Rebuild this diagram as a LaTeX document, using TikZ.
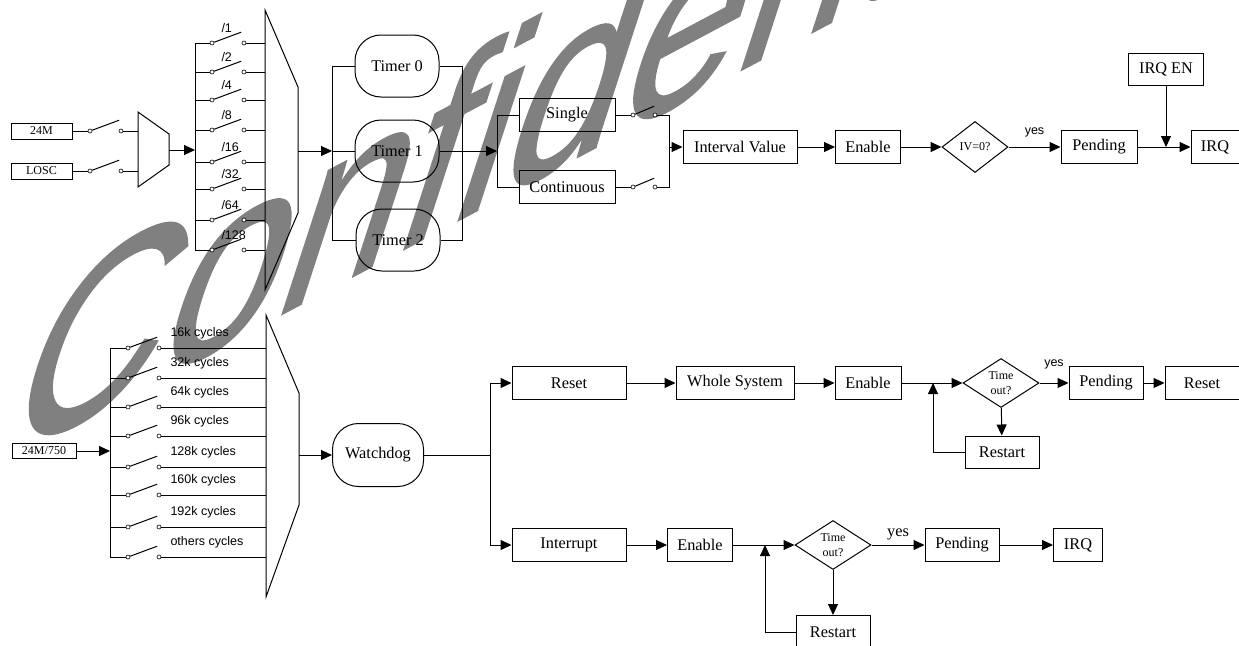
\documentclass[tikz,border=0pt]{standalone}
\usepackage{fontspec}
\setmainfont{Liberation Serif}
\newfontfamily\lsans{Liberation Sans}
\newfontfamily\wmfont{Liberation Sans}[FakeBold=1]
\usetikzlibrary{arrows.meta,shapes.geometric}
\definecolor{wmgray}{RGB}{128,128,128}
\tikzset{
  block/.style    = {shape=rectangle, draw, inner sep=0pt, minimum height=33pt,
                     font=\fontsize{16.3}{18}\selectfont},
  src/.style      = {block, minimum width=61pt, minimum height=16pt,
                     font=\fontsize{12}{14}\selectfont},
  oval/.style     = {block, rounded corners=26pt, minimum width=84pt, minimum height=62pt},
  decision/.style = {shape=diamond, draw, inner sep=0pt, align=center,
                     font=\fontsize{12}{15}\selectfont},
  contact/.style  = {circle, draw, fill=white, inner sep=0pt, minimum size=4pt, line width=0.6pt},
  lbl/.style      = {font=\lsans\fontsize{12.5}{14}\selectfont, inner sep=0pt},
  flow/.style     = {draw, -{Triangle[length=11pt,width=10pt]}},
  stamp/.style    = {font=\wmfont\fontsize{100}{100}\selectfont, text=wmgray,
                     inner sep=0pt, anchor=base west}
}

\begin{document}
\begin{tikzpicture}[x=1pt, y=-1pt, line width=1pt]
  \clip (0,0) rectangle (1239,645);
  \node[stamp, cm={2.119,1.126,0.881,2.710,(0,0)}] (wm) at (-4,466) {Confidential};

  % timer clock
  \node[src] (osc) at (41.5,131) {24M};
  \node[src] (losc) at (41.5,171) {LOSC};
  \foreach \n/\y in {o/131, l/171} {
    \node[contact] (\n a) at (90,\y) {};
    \node[contact] (\n b) at (121,\y) {};
    \draw (\n a.20) -- ++(27,-10);
  }
  \draw (osc) -- (oa);
  \draw (losc) -- (la);
  \draw (138,112) coordinate (mux1) -- (169,134) -- (169,165) -- (138,187) -- cycle;
  \coordinate (mux1o) at (169,150);
  \draw (ob) -- (ob -| mux1);
  \draw (lb) -- (lb -| mux1);
  \coordinate (dtop) at (195,43);
  \draw (dtop) -- (195,250);
  \draw[flow] (mux1o) -- (mux1o -| dtop);
  \draw (265,10) coordinate (mux2) -- (298,87) -- (298,213) -- (265,290) -- cycle;
  \coordinate (mux2o) at (298,151);
  \foreach \y/\d in {43/1, 72/2, 100/4, 130/8, 162/16, 189/32, 220/64, 250/128} {
    \node[contact] (dl\d) at (212,\y) {};
    \node[contact] (dr\d) at (244,\y) {};
    \draw (dl\d.20) -- ++(27,-10);
    \draw (dl\d -| dtop) -- (dl\d);
    \draw (dr\d) -- (dr\d -| mux2);
    \node[lbl, anchor=west] (dt\d) at (221,\y-15) {/\d};
  }

  % timers
  \coordinate (tbus) at (332,66);
  \coordinate (tright) at (462,66);
  \node[oval] (t0) at (397,66) {Timer 0};
  \node[oval] (t1) at (397,151) {Timer 1};
  \node[oval] (t2) at (398,240) {Timer 2};
  \draw[flow] (mux2o) -- (mux2o -| tbus);
  \draw (t0.west) -- (t0.west -| tbus) -- (t2.west -| tbus) -- (t2.west);
  \draw (t1.west) -- (t1.west -| tbus);
  \draw (t0.east) -- (t0.east -| tright) -- (t2.east -| tright) -- (t2.east);
  \coordinate (mbus) at (497,115);
  \draw[flow] (t1.east) -- (t1.east -| mbus);
  \node[block, minimum width=96pt] (single) at (567,115) {Single};
  \node[block, minimum width=96pt] (cont) at (567,187) {Continuous};
  \draw (single.west) -- (single.west -| mbus) -- (cont.west -| mbus) -- (cont.west);
  \foreach \n/\y in {s/115, c/187} {
    \node[contact] (\n a) at (633,\y) {};
    \node[contact] (\n b) at (655,\y) {};
    \draw (\n a.20) -- ++(19,-8);
  }
  \draw (single) -- (sa);
  \draw (cont) -- (ca);
  \coordinate (mout) at (669,115);
  \draw (sb) -- (sb -| mout) -- (cb -| mout) -- (cb);

  % timer interrupt
  \node[block, minimum width=114pt] (iv) at (740,147) {Interval Value};
  \node[block, minimum width=65pt] (en1) at (868,147) {Enable};
  \node[decision, minimum width=66pt, minimum height=51pt] (iv0) at (975,147) {IV=0?};
  \node[block, minimum width=76pt] (pend1) at (1099,147) {Pending};
  \node[block, minimum width=48pt] (irq1) at (1215,147) {IRQ};
  \node[block, minimum width=75pt, minimum height=32pt] (irqen) at (1166,69) {IRQ EN};
  \draw[flow] (iv.west -| mout) -- (iv);
  \draw[flow] (iv) -- (en1);
  \draw[flow] (en1) -- (iv0);
  \draw[flow] (iv0) -- node[lbl, above=9pt] {yes} (pend1);
  \draw[flow] (pend1) -- (irq1);
  \draw[flow] (irqen) -- (irqen |- irq1);

  % watchdog clock
  \node[src, minimum width=64pt, minimum height=15pt] (wsrc) at (44,451) {24M/750};
  \coordinate (wtop) at (110,348);
  \draw (wtop) -- (110,557);
  \draw[flow] (wsrc) -- (wsrc -| wtop);
  \draw (266,315) coordinate (mux3) -- (299,393) -- (299,505) -- (266,597) -- cycle;
  \coordinate (mux3o) at (299,455);
  \foreach \y/\k in {348/16k, 378/32k, 407/64k, 436/96k, 467/128k, 495/160k, 527/192k, 557/others} {
    \node[contact] (wl\k) at (128,\y) {};
    \node[contact] (wr\k) at (159,\y) {};
    \draw (wl\k.20) -- ++(27,-10);
    \draw (wl\k -| wtop) -- (wl\k);
    \draw (wr\k) -- (wr\k -| mux3);
    \node[lbl, anchor=west] (wt\k) at (170,\y-15) {\k\ cycles};
  }

  % watchdog
  \node[oval, minimum width=91pt, minimum height=63pt] (wdog) at (378,455) {Watchdog};
  \draw[flow] (mux3o) -- (wdog);
  \coordinate (wbus) at (490,383);
  \node[block, minimum width=114pt] (rst) at (569,383) {Reset};
  \node[block, minimum width=114pt] (intr) at (569,545) {Interrupt};
  \draw[flow] (wdog.east) -- (wdog.east -| wbus) |- (rst);
  \draw[flow] (wdog.east -| wbus) |- (intr);

  \node[block, minimum width=118pt] (whole) at (735,383) {Whole System};
  \node[block, minimum width=66pt] (en2) at (868,383) {Enable};
  \node[decision, minimum width=76pt, minimum height=49pt] (to2) at (1001,383) {Time\\out?};
  \node[block, minimum width=74pt, minimum height=32pt] (rs2) at (1002,452) {Restart};
  \node[block, minimum width=74pt] (pend2) at (1106,383) {Pending};
  \node[block, minimum width=74pt] (rst2) at (1202,383) {Reset};
  \coordinate (j2) at (933,383);
  \draw[flow] (rst) -- (whole);
  \draw[flow] (whole) -- (en2);
  \draw[flow] (en2) -- (to2);
  \draw[flow] (to2) -- node[lbl, above=13pt] {yes} (pend2);
  \draw[flow] (pend2) -- (rst2);
  \draw[flow] (to2) -- (rs2);
  \draw[flow] (rs2) -| (j2);

  \node[block, minimum width=65pt] (en3) at (700,545) {Enable};
  \node[decision, minimum width=76pt, minimum height=49pt] (to3) at (833,545) {Time\\out?};
  \node[block, minimum width=74pt] (rs3) at (833,632) {Restart};
  \node[block, minimum width=74pt] (pend3) at (962,545) {Pending};
  \node[block, minimum width=49pt] (irq3) at (1078,545) {IRQ};
  \coordinate (j3) at (765,545);
  \draw[flow] (intr) -- (en3);
  \draw[flow] (en3) -- (to3);
  \draw[flow] (to3) -- node[above=4.7pt, inner sep=0pt, font=\fontsize{16.3}{18}\selectfont] {yes} (pend3);
  \draw[flow] (pend3) -- (irq3);
  \draw[flow] (to3) -- (rs3);
  \draw[flow] (rs3) -| (j3);
\end{tikzpicture}
\end{document}
